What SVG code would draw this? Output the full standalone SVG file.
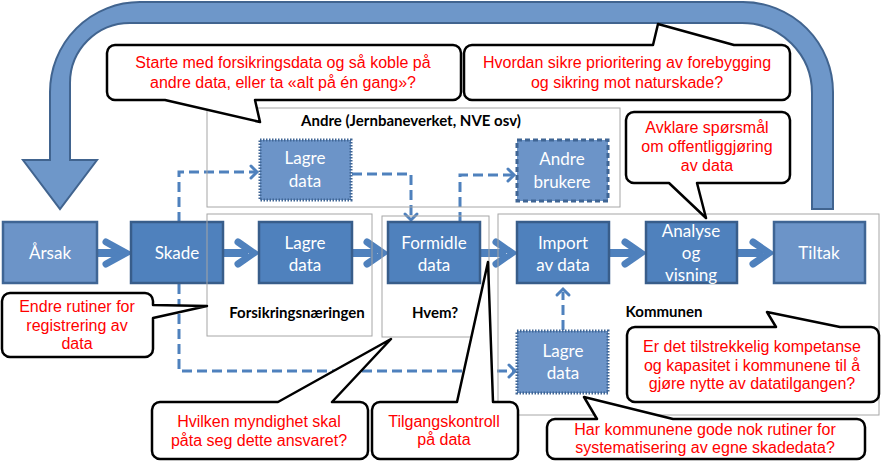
<svg xmlns="http://www.w3.org/2000/svg" width="881" height="467" viewBox="0 0 881 467">
<style>
.grp{fill:none;stroke:#A6A6A6;stroke-width:1}
.glbl{font-family:Lato,"Open Sans",sans-serif;font-weight:bold;font-size:15px;fill:#000;text-anchor:middle}
.box{fill:#4F81BD;stroke:#385D8A;stroke-width:2.5}
.lbox{fill:#6C94C8;stroke:#3F6594;stroke-width:2.5}
.dot{fill:#6C94C8;stroke:#3F6594;stroke-width:3;stroke-dasharray:1.5 1.5}
.dsh{fill:#6C94C8;stroke:#3F6594;stroke-width:3;stroke-dasharray:5 3}
.bt{font-family:Lato,"Open Sans",sans-serif;font-size:17px;fill:#fff;text-anchor:middle}
.arr{fill:none;stroke:#4F81BD;stroke-width:8;stroke-linecap:butt}
.chev{fill:none;stroke:#4F81BD;stroke-width:7;stroke-linejoin:miter;stroke-linecap:round}
.dl{fill:none;stroke:#4F81BD;stroke-width:3;stroke-dasharray:10 5}
.dh{fill:none;stroke:#4F81BD;stroke-width:3;stroke-linecap:round}
.co{fill:#fff;stroke:#000;stroke-width:2.5;stroke-linejoin:round}
.rt{font-family:"Liberation Sans",Arial,sans-serif;font-size:16px;fill:#FF0000;text-anchor:middle}
</style>

<g id="loop-arrow">
<path d="M812,209 L812,93 A70,70 0 0 0 742,23 L130,23 A60,60 0 0 0 70,83 L70,160 L97,160 L60,209 L23,160 L50,160 L50,92 A90,90 0 0 1 140,2 L743,2 A90,90 0 0 1 833,92 L833,209 Z" fill="#6E97C9" stroke="#41648F" stroke-width="2"/>
</g>

<g id="connectors">
<path class="arr" d="M97,253 H122 M223,253 H248 M352,253 H377 M480,253 H506 M609,253 H635 M737,253 H763"/>
<path class="chev" d="M106,242 L126,253 L106,264 M238,242 L254,253 L238,264 M367,242 L383,253 L367,264 M496,242 L512,253 L496,264 M625,242 L641,253 L625,264 M753,242 L769,253 L753,264"/>
<path class="dl" d="M179,222 V172 H255"/>
<path class="dh" d="M251,166 L257,172 L251,178"/>
<path class="dl" d="M352,174 H411 V218"/>
<path class="dh" d="M405,214 L411,220 L417,214"/>
<path class="dl" d="M460,222 V175 H512"/>
<path class="dh" d="M508,169 L514,175 L508,181"/>
<path class="dl" d="M179,284 V371 H513"/>
<path class="dh" d="M509,365 L515,371 L509,377"/>
<path class="dl" d="M563,330 V292"/>
<path class="dh" d="M557,295 L563,289 L569,295"/>
</g>

<g id="n-arsak"><rect class="lbox" x="3" y="222" width="94" height="61"/><text class="bt" x="50" y="259">Årsak</text></g>
<g id="n-skade"><rect class="box" x="131" y="222" width="92" height="61"/><text class="bt" x="177" y="259">Skade</text></g>
<g id="n-lagre1"><rect class="box" x="259" y="222" width="93" height="61"/><text class="bt" x="305" y="249">Lagre</text><text class="bt" x="305" y="271">data</text></g>
<g id="n-formidle"><rect class="box" x="388" y="222" width="92" height="61"/><text class="bt" x="434" y="249">Formidle</text><text class="bt" x="434" y="271">data</text></g>
<g id="n-import"><rect class="box" x="517" y="222" width="92" height="61"/><text class="bt" x="563" y="249">Import</text><text class="bt" x="563" y="271">av data</text></g>
<g id="n-analyse"><rect class="box" x="646" y="222" width="91" height="61"/><text class="bt" x="691" y="237">Analyse</text><text class="bt" x="691" y="259">og</text><text class="bt" x="691" y="281">visning</text></g>
<g id="n-tiltak"><rect class="lbox" x="774" y="222" width="91" height="61"/><text class="bt" x="819" y="259">Tiltak</text></g>
<g id="n-lagre-andre"><rect class="dot" x="260" y="140" width="91" height="60"/><text class="bt" x="305" y="164">Lagre</text><text class="bt" x="305" y="187">data</text></g>
<g id="n-andre-brukere"><rect class="dsh" x="517" y="140" width="91" height="61"/><text class="bt" x="562" y="165">Andre</text><text class="bt" x="562" y="188">brukere</text></g>
<g id="n-lagre-kommune"><rect class="dot" x="517" y="331" width="91" height="62"/><text class="bt" x="563" y="357">Lagre</text><text class="bt" x="563" y="379">data</text></g>

<g id="grp-andre"><rect class="grp" x="207" y="108" width="413" height="99"/><text class="glbl" x="411" y="126">Andre (Jernbaneverket, NVE osv)</text></g>
<g id="grp-forsikring"><rect class="grp" x="207" y="214" width="165" height="122"/><text class="glbl" x="297" y="318">Forsikringsnæringen</text></g>
<g id="grp-hvem"><rect class="grp" x="382" y="216" width="107" height="121"/><text class="glbl" x="435" y="318">Hvem?</text></g>
<g id="grp-kommunen"><rect class="grp" x="498" y="214" width="381" height="201"/><text class="glbl" x="664" y="317">Kommunen</text></g>

<g id="c1"><path class="co" d="M115,45 H453 A8,8 0 0 1 461,53 V92 A8,8 0 0 1 453,100 H255 L260,122 L165,100 H115 A8,8 0 0 1 107,92 V53 A8,8 0 0 1 115,45 Z"/><text class="rt" x="283" y="68">Starte med forsikringsdata og så koble på</text><text class="rt" x="283" y="88">andre data, eller ta «alt på én gang»?</text></g>
<g id="c2"><path class="co" d="M472,45 H653 L658,24 L734,45 H782 A8,8 0 0 1 790,53 V92 A8,8 0 0 1 782,100 H472 A8,8 0 0 1 464,92 V53 A8,8 0 0 1 472,45 Z"/><text class="rt" x="627" y="68">Hvordan sikre prioritering av forebygging</text><text class="rt" x="627" y="88">og sikring mot naturskade?</text></g>
<g id="c3"><path class="co" d="M634,112 H782 A8,8 0 0 1 790,120 V175 A8,8 0 0 1 782,183 H697 L706,218 L669,183 H634 A8,8 0 0 1 626,175 V120 A8,8 0 0 1 634,112 Z"/><text class="rt" x="707" y="133">Avklare spørsmål</text><text class="rt" x="707" y="152">om offentliggjøring</text><text class="rt" x="707" y="171">av data</text></g>
<g id="c4"><path class="co" d="M10,293 H145 A8,8 0 0 1 153,301 V305 L207,306 L153,318 V349 A8,8 0 0 1 145,357 H10 A8,8 0 0 1 2,349 V301 A8,8 0 0 1 10,293 Z"/><text class="rt" x="77" y="312">Endre rutiner for</text><text class="rt" x="77" y="331">registrering av</text><text class="rt" x="77" y="349">data</text></g>
<g id="c5"><path class="co" d="M160,402 H278 L391,339 L332,402 H360 A8,8 0 0 1 368,410 V451 A8,8 0 0 1 360,459 H160 A8,8 0 0 1 152,451 V410 A8,8 0 0 1 160,402 Z"/><text class="rt" x="259" y="427">Hvilken myndighet skal</text><text class="rt" x="259" y="446">påta seg dette ansvaret?</text></g>
<g id="c6"><path class="co" d="M380,402 H457 L488,262 L493,402 H510 A8,8 0 0 1 518,410 V451 A8,8 0 0 1 510,459 H380 A8,8 0 0 1 372,451 V410 A8,8 0 0 1 380,402 Z"/><text class="rt" x="444" y="427">Tilgangskontroll</text><text class="rt" x="444" y="445">på data</text></g>
<g id="c7"><path class="co" d="M635,327 H776 L767,312 L840,327 H871 A8,8 0 0 1 879,335 V394 A8,8 0 0 1 871,402 H635 A8,8 0 0 1 627,394 V335 A8,8 0 0 1 635,327 Z"/><text class="rt" x="752" y="352">Er det tilstrekkelig kompetanse</text><text class="rt" x="752" y="371">og kapasitet i kommunene til å</text><text class="rt" x="752" y="389">gjøre nytte av datatilgangen?</text></g>
<g id="c8"><path class="co" d="M555,419 H597 L584,397 L673,419 H857 A8,8 0 0 1 865,427 V451 A8,8 0 0 1 857,459 H555 A8,8 0 0 1 547,451 V427 A8,8 0 0 1 555,419 Z"/><text class="rt" x="705" y="435">Har kommunene gode nok rutiner for</text><text class="rt" x="705" y="453">systematisering av egne skadedata?</text></g>
</svg>
